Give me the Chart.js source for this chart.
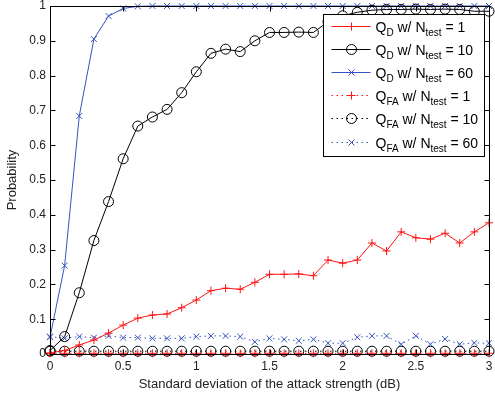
<!DOCTYPE html>
<html><head><meta charset="utf-8">
<script src="https://cdn.jsdelivr.net/npm/chart.js@4.4.1/dist/chart.umd.min.js"></script>
<style>html,body{margin:0;padding:0;background:#fff}</style>
</head><body>
<canvas id="c" width="495" height="395"></canvas>
<script>
const xValues = [0,0.1,0.2,0.3,0.4,0.5,0.6,0.7,0.8,0.9,1.0,1.1,1.2,1.3,1.4,1.5,1.6,1.7,1.8,1.9,2.0,2.1,2.2,2.3,2.4,2.5,2.6,2.7,2.8,2.9,3.0];
const qdN1  = [0.003,0.01,0.026,0.04,0.06,0.083,0.103,0.112,0.115,0.133,0.155,0.182,0.189,0.186,0.206,0.229,0.229,0.23,0.225,0.27,0.261,0.27,0.319,0.296,0.351,0.334,0.33,0.347,0.319,0.351,0.377];
const qdN10 = [0.01,0.05,0.176,0.326,0.438,0.561,0.655,0.681,0.703,0.751,0.811,0.864,0.876,0.869,0.9,0.924,0.924,0.925,0.924,0.955,0.972,0.982,0.988,0.99,0.99,0.991,0.99,0.991,0.99,0.985,0.985];
const qdN60 = [0.048,0.254,0.684,0.905,0.971,0.993,0.999,1,1,1,1,1,1,1,1,1,1,1,1,1,1,1,1,1,1,1,1,1,1,1,1];
const qfaN1  = [0.002,0.002,0.002,0.002,0.002,0.002,0.002,0.002,0.002,0.002,0.002,0.002,0.002,0.002,0.002,0.002,0.002,0.002,0.002,0.002,0.002,0.002,0.002,0.002,0.002,0.002,0.002,0.002,0.002,0.002,0.002];
const qfaN10 = [0.008,0.008,0.008,0.008,0.008,0.008,0.008,0.008,0.008,0.008,0.008,0.008,0.008,0.008,0.008,0.008,0.008,0.008,0.008,0.008,0.008,0.008,0.008,0.008,0.008,0.008,0.008,0.008,0.008,0.008,0.008];
const qfaN60 = [0.05,0.045,0.05,0.047,0.052,0.047,0.047,0.045,0.045,0.045,0.05,0.052,0.052,0.05,0.035,0.045,0.042,0.038,0.042,0.031,0.031,0.048,0.052,0.052,0.028,0.052,0.028,0.043,0.028,0.032,0.031];
const seriesLabels = ['Q_{D} w/ N_{test} = 1','Q_{D} w/ N_{test} = 10','Q_{D} w/ N_{test} = 60','Q_{FA} w/ N_{test} = 1','Q_{FA} w/ N_{test} = 10','Q_{FA} w/ N_{test} = 60'];
const xTickLabels = ['0','0.5','1','1.5','2','2.5','3'];
const yTickLabels = ['0','0.1','0.2','0.3','0.4','0.5','0.6','0.7','0.8','0.9','1'];
const xTitle = 'Standard deviation of the attack strength (dB)';
const yTitle = 'Probability';

const RED = 'rgb(255,20,20)', BLACK = '#000000', BLUE = 'rgb(55,85,190)';
const FONT = '"Liberation Sans", Arial, sans-serif';
const toXY = arr => arr.map((v,i)=>({x:xValues[i], y:v}));

const legendItems = [];
function ds(label, data, color, style, radius, dotted){
  const dash = dotted ? [1.5,3.5] : [];
  legendItems.push({label, color, style, radius, dash});
  return {label, data: toXY(data), borderColor: color, backgroundColor:'rgba(0,0,0,0)',
    pointBorderColor: color, pointBackgroundColor:'rgba(0,0,0,0)', borderWidth:1,
    pointStyle: style, pointRadius: radius, pointBorderWidth:1, pointHoverRadius: radius,
    borderDash: dash, tension:0, clip:false};
}
const datasets = [
  ds(seriesLabels[0], qdN1, RED, 'cross', 4, false),
  ds(seriesLabels[1], qdN10, BLACK, 'circle', 5, false),
  ds(seriesLabels[2], qdN60, BLUE, 'crossRot', 4.2, false),
  ds(seriesLabels[3], qfaN1, RED, 'cross', 4, true),
  ds(seriesLabels[4], qfaN10, BLACK, 'circle', 5, true),
  ds(seriesLabels[5], qfaN60, BLUE, 'crossRot', 4.2, true)
];
datasets.forEach((d,i)=>{ d.order = i; });

function drawRich(ctx, text, x, y, mainSize, subSize){
  const parts = text.split(/_\{([^}]*)\}/);
  let cx = x;
  parts.forEach((p,i)=>{
    if(!p) return;
    const sub = i % 2 === 1;
    ctx.font = (sub ? subSize : mainSize) + 'px ' + FONT;
    ctx.fillText(p, cx, y + (sub ? 4 : 0));
    cx += ctx.measureText(p).width;
  });
}

const decor = {
  id:'decor',
  afterDatasetsDraw(chart){
    const ctx = chart.ctx, a = chart.chartArea;
    const xs = chart.scales.x, ys = chart.scales.y;
    ctx.save();
    ctx.strokeStyle = '#000'; ctx.lineWidth = 1; ctx.setLineDash([]);
    const L = Math.round(a.left)+0.5, R = Math.round(a.right)+0.5, T = Math.round(a.top)+0.5, B = Math.round(a.bottom)+0.5;
    ctx.strokeRect(L, T, R-L, B-T);
    const tl = 5;
    ctx.beginPath();
    xs.ticks.forEach(t=>{
      const px = Math.round(xs.getPixelForValue(t.value))+0.5;
      ctx.moveTo(px,B); ctx.lineTo(px,B-tl);
      ctx.moveTo(px,T); ctx.lineTo(px,T+tl);
    });
    ys.ticks.forEach(t=>{
      const py = Math.round(ys.getPixelForValue(t.value))+0.5;
      ctx.moveTo(L,py); ctx.lineTo(L+tl,py);
      ctx.moveTo(R,py); ctx.lineTo(R-tl,py);
    });
    ctx.stroke();

    // legend
    const lw = 161, lh = 142;
    const lx = Math.round(a.right) - 5 - lw + 0.5, ly = Math.round(a.top) + 8 + 0.5;
    ctx.fillStyle = '#fff';
    ctx.fillRect(lx, ly, lw, lh);
    ctx.strokeStyle = '#000';
    ctx.strokeRect(lx, ly, lw, lh);
    legendItems.forEach((it,i)=>{
      const ry = Math.round(ly + 11.5 + i*23.1) + 0.5;
      ctx.save();
      ctx.strokeStyle = it.color; ctx.lineWidth = 1;
      ctx.setLineDash(it.dash);
      ctx.beginPath(); ctx.moveTo(lx+8, ry); ctx.lineTo(lx+47, ry); ctx.stroke();
      ctx.setLineDash([]);
      ctx.strokeStyle = it.color;
      ctx.fillStyle = 'rgba(0,0,0,0)';
      Chart.helpers.drawPoint(ctx, {pointStyle:it.style, radius:it.radius, rotation:0, borderWidth:1}, lx+28, ry);
      ctx.restore();
      ctx.fillStyle = '#000'; ctx.textBaseline = 'alphabetic'; ctx.textAlign = 'left';
      drawRich(ctx, it.label, lx+52, ry+5, 14, 10);
    });
    ctx.restore();
  }
};

function noPad(s){ s.paddingTop = 0; s.paddingBottom = 0; s.paddingLeft = 0; s.paddingRight = 0; }

new Chart(document.getElementById('c'), {
  type:'line',
  data:{datasets},
  options:{
    responsive:false, animation:false, devicePixelRatio:1,
    layout:{padding:{top:6,right:3,left:0,bottom:0}},
    plugins:{legend:{display:false}, tooltip:{enabled:false}},
    scales:{
      x:{type:'linear', min:0, max:3,
        afterFit(s){ s.height = 41; noPad(s); },
        grid:{display:false, drawTicks:false}, border:{display:false},
        ticks:{stepSize:0.5, padding:5, color:'#222', font:{family:FONT,size:12}, maxRotation:0,
          callback:(v)=>{ const i = Math.round(v/0.5); return xTickLabels[i]; }},
        title:{display:true, text:xTitle, color:'#222', font:{family:FONT,size:13}, padding:{top:0,bottom:3}}
      },
      y:{type:'linear', min:0, max:1,
        afterFit(s){ s.width = 50; noPad(s); },
        grid:{display:false, drawTicks:false}, border:{display:false},
        ticks:{stepSize:0.1, padding:4, color:'#222', font:{family:FONT,size:12},
          callback:(v)=>{ const i = Math.round(v*10); return yTickLabels[i]; }},
        title:{display:true, text:yTitle, color:'#222', font:{family:FONT,size:13}, padding:{top:5,bottom:0}}
      }
    }
  },
  plugins:[decor]
});
</script>
</body></html>
